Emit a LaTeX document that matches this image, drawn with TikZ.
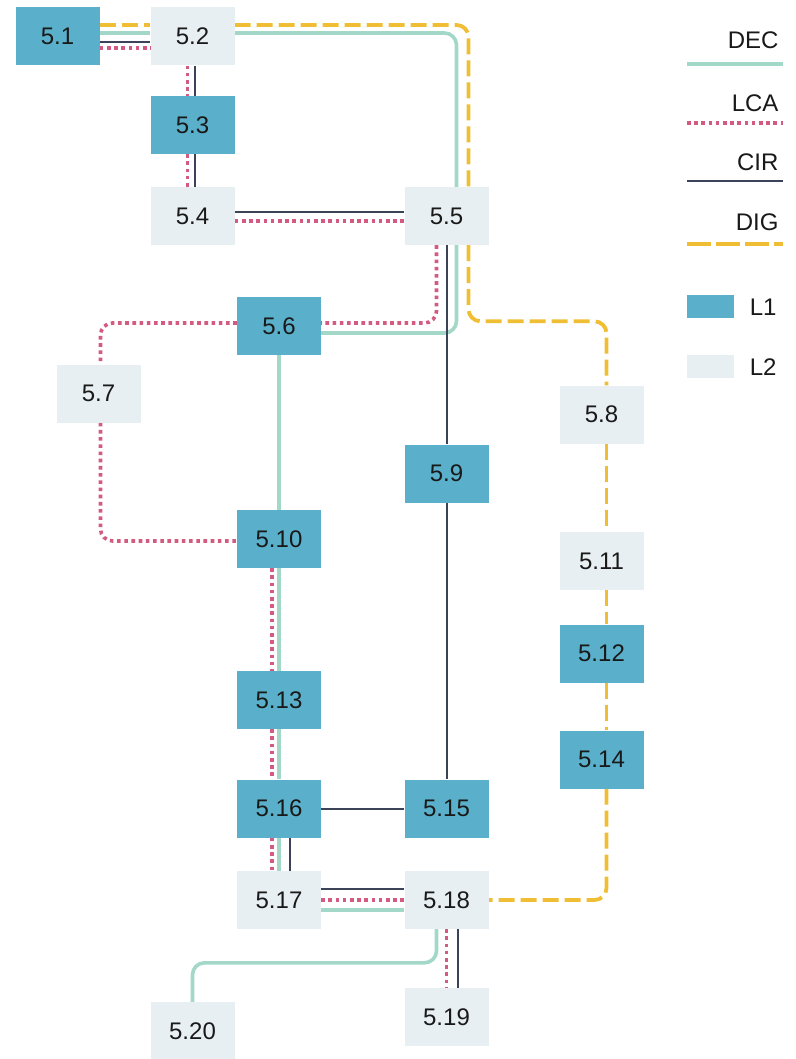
\documentclass[tikz,border=0pt]{standalone}
\usepackage{fontspec}
\setmainfont{Liberation Sans}
\usetikzlibrary{calc,backgrounds}
\definecolor{lone}{HTML}{5AB0CB}
\definecolor{ltwo}{HTML}{E8EFF2}
\definecolor{decc}{HTML}{A3D8C8}
\definecolor{lcac}{HTML}{D35A80}
\definecolor{circ}{HTML}{3B4358}
\definecolor{digc}{HTML}{EFBE35}
\begin{document}
\begin{tikzpicture}[x=1pt,y=-1pt,
  box/.style={minimum width=84pt,minimum height=58pt,inner sep=0pt,
    font=\fontsize{24}{28}\selectfont,text=black!90},
  lvone/.style={box,fill=lone},
  lvtwo/.style={box,fill=ltwo},
  dec/.style={draw=decc,line width=3.6pt,rounded corners=12pt},
  lca/.style={draw=lcac,line width=3.6pt,dash pattern=on 3.6pt off 3.6pt,rounded corners=12pt},
  cir/.style={draw=circ,line width=2pt,rounded corners=12pt},
  dig/.style={draw=digc,line width=3.8pt,dash pattern=on 16pt off 6pt,rounded corners=12pt},
  keytext/.style={anchor=east,font=\fontsize{24}{28}\selectfont,text=black!90},
  swatch/.style={minimum width=47pt,minimum height=23pt,inner sep=0pt}]
\useasboundingbox (0,0) rectangle (795,1059);

% boxes
\node[lvone] (n51)  at (57.5,36.5) {5.1};
\node[lvtwo] (n52)  at (192.5,36.5) {5.2};
\node[lvone] (n53)  at (192.5,125) {5.3};
\node[lvtwo] (n54)  at (192.5,216) {5.4};
\node[lvtwo] (n55)  at (446.5,216) {5.5};
\node[lvone] (n56)  at (279,326) {5.6};
\node[lvtwo] (n57)  at (98.5,393.5) {5.7};
\node[lvtwo] (n58)  at (601.5,414.5) {5.8};
\node[lvone] (n59)  at (446.5,473.5) {5.9};
\node[lvone] (n510) at (279,539) {5.10};
\node[lvtwo] (n511) at (601.5,561) {5.11};
\node[lvone] (n512) at (601.5,653.5) {5.12};
\node[lvone] (n513) at (279,700) {5.13};
\node[lvone] (n514) at (601.5,759.5) {5.14};
\node[lvone] (n515) at (446.5,808.5) {5.15};
\node[lvone] (n516) at (279,808.5) {5.16};
\node[lvtwo] (n517) at (279,900) {5.17};
\node[lvtwo] (n518) at (446.5,900) {5.18};
\node[lvtwo] (n519) at (446.5,1017) {5.19};
\node[lvtwo] (n520) at (192.5,1031) {5.20};

\begin{pgfonlayer}{background}
% DIG
\draw[dig] ($(n51.east)+(0,-11.5)$) -- ($(n52.west)+(0,-11.5)$);
\draw[dig] ($(n52.east)+(0,-11.5)$) -| ($(n55.north)+(22,0)$);
\draw[dig] ($(n55.south)+(22,0)$) |- ($(n58.north)+(5,-64)$) -- ($(n58.north)+(5,0)$);
\draw[dig] ($(n58.south)+(5,0)$) -- ($(n511.north)+(5,0)$);
\draw[dig] ($(n511.south)+(5,0)$) -- ($(n512.north)+(5,0)$);
\draw[dig] ($(n512.south)+(5,0)$) -- ($(n514.north)+(5,0)$);
\draw[dig] ($(n514.south)+(5,0)$) |- (n518.east);
% DEC
\draw[dec] ($(n51.east)+(0,-3.5)$) -- ($(n52.west)+(0,-3.5)$);
\draw[dec] ($(n52.east)+(0,-3.5)$) -| ($(n55.north)+(10,0)$);
\draw[dec] ($(n55.south)+(10,0)$) |- ($(n56.east)+(0,7)$);
\draw[dec] (n56.south) -- (n510.north);
\draw[dec] (n510.south) -- (n513.north);
\draw[dec] (n513.south) -- (n516.north);
\draw[dec] (n516.south) -- (n517.north);
\draw[dec] ($(n517.east)+(0,10)$) -- ($(n518.west)+(0,10)$);
\draw[dec] ($(n518.south)+(-10,0)$) |- ($(n520.north)+(0,-39)$) -- (n520.north);
% LCA
\draw[lca] ($(n51.east)+(0,11.5)$) -- ($(n52.west)+(0,11.5)$);
\draw[lca] ($(n52.south)+(-5,0)$) -- ($(n53.north)+(-5,0)$);
\draw[lca] ($(n53.south)+(-5,0)$) -- ($(n54.north)+(-5,0)$);
\draw[lca] ($(n54.east)+(0,5)$) -- ($(n55.west)+(0,5)$);
\draw[lca] ($(n55.south)+(-10,0)$) |- ($(n56.east)+(0,-3)$);
\draw[lca] ($(n56.west)+(0,-3)$) -| ($(n57.north)+(2,0)$);
\draw[lca] ($(n57.south)+(2,0)$) |- ($(n510.west)+(0,2)$);
\draw[lca] ($(n510.south)+(-7,0)$) -- ($(n513.north)+(-7,0)$);
\draw[lca] ($(n513.south)+(-7,0)$) -- ($(n516.north)+(-7,0)$);
\draw[lca] ($(n516.south)+(-7,0)$) -- ($(n517.north)+(-7,0)$);
\draw[lca] (n517.east) -- (n518.west);
\draw[lca] (n518.south) -- (n519.north);
% CIR
\draw[cir] ($(n51.east)+(0,5.5)$) -- ($(n52.west)+(0,5.5)$);
\draw[cir] ($(n52.south)+(2.5,0)$) -- ($(n53.north)+(2.5,0)$);
\draw[cir] ($(n53.south)+(2.5,0)$) -- ($(n54.north)+(2.5,0)$);
\draw[cir] ($(n54.east)+(0,-4)$) -- ($(n55.west)+(0,-4)$);
\draw[cir] (n55.south) -- (n59.north);
\draw[cir] (n59.south) -- (n515.north);
\draw[cir] (n515.west) -- (n516.east);
\draw[cir] ($(n516.south)+(11,0)$) -- ($(n517.north)+(11,0)$);
\draw[cir] ($(n517.east)+(0,-11)$) -- ($(n518.west)+(0,-11)$);
\draw[cir] ($(n518.south)+(11,0)$) -- ($(n519.north)+(11,0)$);
\end{pgfonlayer}

% key
\node[keytext] (kdec) at (782,40.5) {DEC};
\coordinate (kdecA) at (687,64);
\coordinate (kdecB) at (783,64);
\draw[dec] (kdecA) -- (kdecB);
\node[keytext] (klca) at (782,103) {LCA};
\coordinate (klcaA) at (687,123);
\coordinate (klcaB) at (783,123);
\draw[lca] (klcaA) -- (klcaB);
\node[keytext] (kcir) at (782,162) {CIR};
\coordinate (kcirA) at (687,181);
\coordinate (kcirB) at (783,181);
\draw[cir] (kcirA) -- (kcirB);
\node[keytext] (kdig) at (782,222) {DIG};
\coordinate (kdigA) at (687,244);
\coordinate (kdigB) at (783,244);
\draw[dig,dash pattern=on 24pt off 5pt] (kdigA) -- (kdigB);
\node[swatch,fill=lone] (kone) at (710.5,306.5) {};
\node[keytext] (konet) at (780,307) {L1};
\node[swatch,fill=ltwo] (ktwo) at (710.5,366.5) {};
\node[keytext] (ktwot) at (780,367) {L2};
\end{tikzpicture}
\end{document}
